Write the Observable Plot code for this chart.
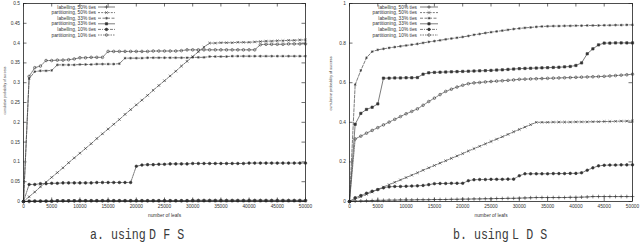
<!DOCTYPE html>
<html><head><meta charset="utf-8">
<script src="https://cdn.jsdelivr.net/npm/d3@7"></script>
<script src="https://cdn.jsdelivr.net/npm/@observablehq/plot@0.6"></script>
<style>
html,body{margin:0;padding:0;background:#fff;}
#wrap{position:relative;width:640px;height:243px;overflow:hidden;background:#fff;}
.panel{position:absolute;top:0;}
.cap{position:absolute;top:228px;font-family:"Liberation Mono",monospace;font-size:14px;line-height:14px;color:#3a3a3a;transform:scaleX(0.83);transform-origin:left top;white-space:nowrap;}
.cap span{letter-spacing:8.5px;margin-left:4px;}
</style></head><body>
<div id="wrap">
  <div class="panel" id="p1" style="left:0px"></div>
  <div class="panel" id="p2" style="left:320px"></div>
  <div class="cap" style="left:90px">a. using<span>DFS</span></div>
  <div class="cap" style="left:453px">b. using<span>LDS</span></div>
</div>
<script>
const leaves = [0,1000,2000,3000,4000,5000,6000,7000,8000,9000,10000,11000,12000,13000,14000,15000,16000,17000,18000,19000,20000,21000,22000,23000,24000,25000,26000,27000,28000,29000,30000,31000,32000,33000,34000,35000,36000,37000,38000,39000,40000,41000,42000,43000,44000,45000,46000,47000,48000,49000,50000];
const seriesNames = ["labelling, 50% ties","partitioning, 50% ties","labelling, 33% ties","partitioning, 33% ties","labelling, 10% ties","partitioning, 10% ties"];
const xTicks = [0,5000,10000,15000,20000,25000,30000,35000,40000,45000,50000];
const dfsYTicks = [0,0.05,0.1,0.15,0.2,0.25,0.3,0.35,0.4,0.45,0.5];
const ldsYTicks = [0,0.2,0.4,0.6,0.8,1];
const xLabel = "number of leafs";
const yLabel = "cumulative probability of success";

// DFS panel
const dfsLab50 = [0,0,0.001,0.001,0.001,0.001,0.001,0.001,0.001,0.001,
  0.002,0.002,0.002,0.002,0.002,0.002,0.002,0.002,0.002,0.002,
  0.002,0.002,0.002,0.002,0.002,0.002,0.002,0.002,0.002,0.002,
  0.003,0.003,0.003,0.003,0.003,0.003,0.003,0.003,0.003,0.003,
  0.003,0.003,0.003,0.003,0.003,0.003,0.003,0.003,0.003,0.003,0.003];
const dfsPart50 = [0,0.012,0.024,0.037,0.049,0.061,0.073,0.085,0.098,0.110,
  0.122,0.134,0.146,0.159,0.171,0.183,0.195,0.207,0.220,0.232,
  0.244,0.256,0.268,0.281,0.293,0.305,0.317,0.329,0.342,0.354,
  0.366,0.378,0.390,0.400,0.400,0.401,0.401,0.401,0.402,0.402,
  0.402,0.403,0.404,0.405,0.405,0.406,0.406,0.407,0.407,0.408,0.408];
const dfsLab33 = [0,0.310,0.328,0.330,0.330,0.331,0.345,0.345,0.345,0.345,
  0.346,0.346,0.346,0.347,0.347,0.347,0.347,0.348,0.362,0.362,
  0.362,0.362,0.363,0.363,0.363,0.363,0.363,0.363,0.363,0.363,
  0.364,0.364,0.364,0.366,0.366,0.366,0.366,0.367,0.367,0.367,
  0.367,0.367,0.367,0.367,0.367,0.367,0.367,0.367,0.367,0.367,0.367];
const dfsPart33 = [0,0.001,0.001,0.001,0.001,0.001,0.002,0.002,0.002,0.002,
  0.002,0.002,0.002,0.002,0.002,0.002,0.002,0.002,0.002,0.002,
  0.002,0.002,0.002,0.002,0.002,0.002,0.002,0.002,0.002,0.002,
  0.002,0.002,0.002,0.002,0.002,0.002,0.002,0.002,0.002,0.002,
  0.002,0.002,0.002,0.002,0.002,0.002,0.002,0.002,0.002,0.002,0.002];
const dfsLab10 = [0,0.043,0.043,0.045,0.045,0.046,0.046,0.047,0.047,0.047,
  0.047,0.047,0.047,0.048,0.048,0.048,0.048,0.048,0.048,0.048,
  0.089,0.092,0.093,0.093,0.094,0.094,0.095,0.095,0.095,0.095,
  0.096,0.096,0.096,0.096,0.096,0.096,0.096,0.096,0.096,0.096,
  0.097,0.097,0.097,0.097,0.097,0.097,0.097,0.097,0.097,0.097,0.097];
const dfsPart10 = [0,0.316,0.338,0.342,0.356,0.356,0.357,0.357,0.358,0.360,
  0.363,0.363,0.364,0.364,0.364,0.379,0.379,0.379,0.379,0.379,
  0.379,0.379,0.379,0.380,0.380,0.380,0.380,0.380,0.381,0.383,
  0.383,0.383,0.383,0.383,0.383,0.383,0.383,0.383,0.383,0.383,
  0.383,0.383,0.396,0.397,0.397,0.397,0.397,0.398,0.398,0.398,0.398];

// LDS panel
const ldsLab50 = [0,0.002,0.003,0.004,0.005,0.006,0.006,0.007,0.007,0.008,
  0.008,0.008,0.009,0.009,0.009,0.010,0.010,0.010,0.011,0.011,
  0.012,0.012,0.013,0.013,0.014,0.014,0.015,0.015,0.016,0.016,
  0.017,0.018,0.019,0.020,0.020,0.020,0.020,0.020,0.020,0.021,
  0.021,0.022,0.023,0.025,0.025,0.025,0.025,0.025,0.025,0.025,0.025];
const ldsPart50 = [0,0.012,0.024,0.036,0.048,0.061,0.073,0.085,0.097,0.109,
  0.121,0.133,0.145,0.158,0.170,0.182,0.194,0.206,0.218,0.230,
  0.242,0.255,0.267,0.279,0.291,0.303,0.315,0.327,0.339,0.352,
  0.364,0.376,0.388,0.400,0.400,0.400,0.401,0.401,0.401,0.401,
  0.402,0.402,0.402,0.403,0.403,0.404,0.404,0.405,0.406,0.406,0.407];
const ldsLab33 = [0,0.590,0.662,0.726,0.757,0.766,0.771,0.776,0.780,0.784,
  0.788,0.792,0.796,0.801,0.806,0.810,0.814,0.819,0.823,0.827,
  0.831,0.836,0.842,0.846,0.851,0.855,0.859,0.863,0.867,0.871,
  0.874,0.877,0.879,0.882,0.884,0.885,0.886,0.886,0.887,0.887,
  0.888,0.888,0.889,0.889,0.889,0.890,0.890,0.891,0.891,0.892,0.892];
const ldsPart33 = [0,0.390,0.445,0.465,0.476,0.493,0.623,0.623,0.624,0.624,
  0.625,0.625,0.626,0.643,0.650,0.652,0.653,0.654,0.655,0.656,
  0.657,0.658,0.659,0.660,0.661,0.662,0.664,0.665,0.667,0.669,
  0.671,0.672,0.673,0.674,0.675,0.676,0.677,0.678,0.680,0.682,
  0.687,0.700,0.746,0.771,0.791,0.800,0.800,0.801,0.801,0.801,0.801];
const ldsLab10 = [0,0.019,0.030,0.042,0.052,0.060,0.069,0.074,0.076,0.076,
  0.077,0.078,0.079,0.081,0.085,0.090,0.091,0.091,0.092,0.092,
  0.092,0.105,0.110,0.111,0.111,0.112,0.112,0.112,0.113,0.113,
  0.130,0.140,0.140,0.140,0.140,0.140,0.141,0.141,0.141,0.142,
  0.142,0.145,0.158,0.170,0.180,0.183,0.184,0.184,0.185,0.185,0.185];
const ldsPart10 = [0,0.316,0.330,0.345,0.359,0.373,0.387,0.401,0.415,0.429,
  0.443,0.455,0.468,0.486,0.505,0.522,0.540,0.556,0.567,0.578,
  0.587,0.595,0.599,0.601,0.604,0.606,0.608,0.610,0.612,0.614,
  0.617,0.618,0.619,0.620,0.621,0.622,0.623,0.624,0.625,0.626,
  0.627,0.628,0.629,0.630,0.631,0.632,0.634,0.636,0.638,0.640,0.643];

// styles
const symbols = ["plus","times","asterisk","square","circle","circle"];
const fills = ["none","none","none","#333","#333","none"];
const dashes = [null,"2,1.2","3,1.5",null,"3,1,1,1","1.5,1"];
const ink = "#444";
const font = "'Liberation Sans', Arial, sans-serif";
const symMap = {plus: d3.symbolPlus, times: d3.symbolTimes, asterisk: d3.symbolAsterisk, square: d3.symbolSquare, circle: d3.symbolCircle};

function makePanel(opts) {
  const {series, yDomain, yTicks, mLeft, mRight, legTextEnd, legX1, legX2, yLabLen, yLabDy} = opts;
  const W = 320, H = 222, mt = 3, mb = 21;
  const ph = H - mt - mb, pw = W - mLeft - mRight, tk = 3.5;
  const marks = [];
  marks.push(Plot.tickX(xTicks, {x: d => d, insetBottom: ph - tk, stroke: "#333", strokeWidth: 0.7}));
  marks.push(Plot.tickX(xTicks, {x: d => d, insetTop: ph - tk, stroke: "#333", strokeWidth: 0.7}));
  marks.push(Plot.tickY(yTicks, {y: d => d, insetRight: pw - tk, stroke: "#333", strokeWidth: 0.7}));
  marks.push(Plot.tickY(yTicks, {y: d => d, insetLeft: pw - tk, stroke: "#333", strokeWidth: 0.7}));
  series.forEach((vals, k) => {
    const d = vals.map((v, i) => ({x: leaves[i], y: v}));
    marks.push(Plot.line(d, {x: "x", y: "y", stroke: ink, strokeWidth: 0.7, strokeDasharray: dashes[k]}));
    marks.push(Plot.dot(d, {x: "x", y: "y", symbol: symbols[k], r: 1.3, stroke: "#333", strokeWidth: 0.6, fill: fills[k]}));
  });
  marks.push(Plot.frame({stroke: "#222", strokeWidth: 0.8}));
  marks.push(Plot.text([xLabel], {text: d => d, frameAnchor: "bottom", lineAnchor: "middle", dy: 14, fontSize: 4.8, fill: "#333"}));
  marks.push(Plot.text([yLabel], {text: d => d, frameAnchor: "left", lineAnchor: "middle", dx: -19, dy: yLabDy, rotate: -90, fontSize: 4, fill: "#333", className: "ylab"}));
  const svg = Plot.plot({
    width: W, height: H, marginLeft: mLeft, marginRight: mRight, marginTop: mt, marginBottom: mb,
    style: {fontSize: "4.8px", fontFamily: font, color: "#333", background: "white", overflow: "visible"},
    x: {domain: [0, 50000], ticks: xTicks, tickSize: 0, tickPadding: 3.5, tickFormat: d3.format("d"), label: null},
    y: {domain: yDomain, ticks: yTicks, tickSize: 0, tickPadding: 3.5, tickFormat: d3.format("~g"), label: null},
    marks
  });
  const s = d3.select(svg);
  s.selectAll(".ylab text").attr("textLength", yLabLen).attr("lengthAdjust", "spacingAndGlyphs");
  // gnuplot-style key
  const g = s.append("g").attr("font-family", font).attr("font-size", 4.8).attr("fill", "#333");
  seriesNames.forEach((name, k) => {
    const yy = 7 + k * 5.6;
    g.append("text").attr("x", legTextEnd).attr("y", yy).attr("dy", "0.32em").attr("text-anchor", "end").text(name);
    g.append("line").attr("x1", legX1).attr("x2", legX2).attr("y1", yy).attr("y2", yy)
      .attr("stroke", ink).attr("stroke-width", 0.7).attr("stroke-dasharray", dashes[k]);
    g.append("path").attr("transform", `translate(${(legX1 + legX2) / 2},${yy})`)
      .attr("d", d3.symbol(symMap[symbols[k]], 1.3 * 1.3 * Math.PI)())
      .attr("stroke", "#333").attr("stroke-width", 0.6).attr("fill", fills[k]);
  });
  return svg;
}

document.getElementById("p1").appendChild(makePanel({
  series: [dfsLab50, dfsPart50, dfsLab33, dfsPart33, dfsLab10, dfsPart10],
  yDomain: [0, 0.5], yTicks: dfsYTicks, mLeft: 23, mRight: 15,
  legTextEnd: 96, legX1: 98, legX2: 115, yLabLen: 48, yLabDy: 12
}));
document.getElementById("p2").appendChild(makePanel({
  series: [ldsLab50, ldsPart50, ldsLab33, ldsPart33, ldsLab10, ldsPart10],
  yDomain: [0, 1], yTicks: ldsYTicks, mLeft: 29, mRight: 8,
  legTextEnd: 97, legX1: 100, legX2: 118, yLabLen: 54, yLabDy: 8
}));
</script>
</body></html>
